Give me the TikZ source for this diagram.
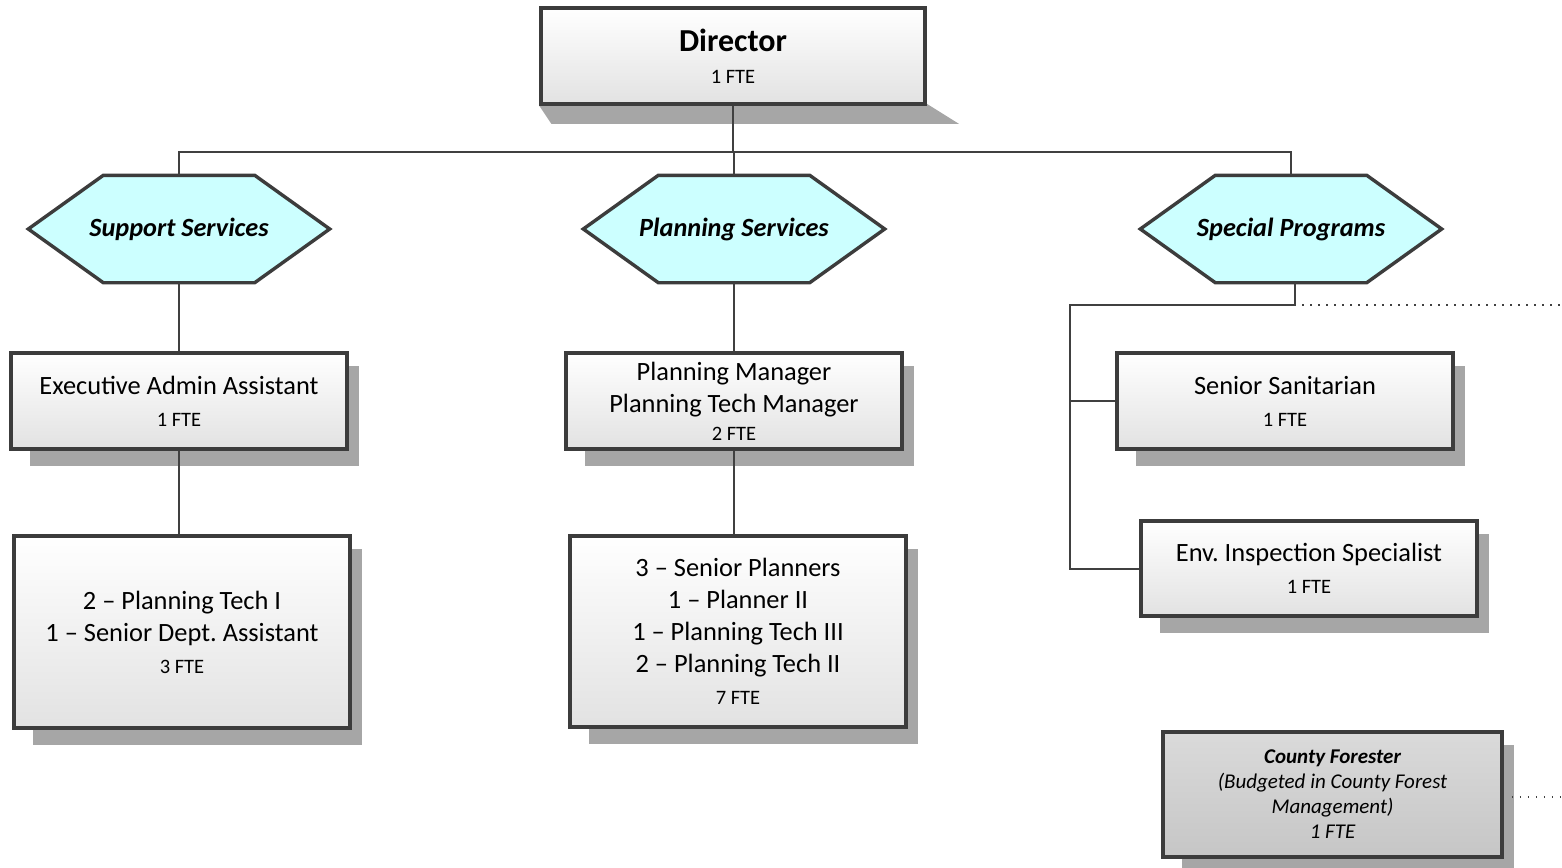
\documentclass[tikz,border=0pt]{standalone}
\usepackage{fontspec}
\setmainfont{Carlito}
\usetikzlibrary{calc}
\pgfdeclarelayer{bg}
\pgfsetlayers{bg,main}
\definecolor{bordergray}{HTML}{3C3C3C}
\definecolor{linegray}{HTML}{404040}
\definecolor{hexfill}{HTML}{CCFFFF}
\definecolor{shadowgray}{HTML}{A6A6A6}
\definecolor{boxbottom}{HTML}{E2E2E2}
\definecolor{cftop}{HTML}{DADADA}
\definecolor{cfbottom}{HTML}{C6C6C6}
\newcommand\fte[1]{{\fontsize{20.5}{32}\selectfont #1}}
\tikzset{
  orgbox/.style={draw=bordergray, line width=3.5pt, top color=white, bottom color=boxbottom,
    align=center, inner sep=0pt, minimum width=336pt, minimum height=96pt,
    font=\fontsize{26.4}{32}\selectfont},
  cfbox/.style={orgbox, top color=cftop, bottom color=cfbottom, minimum width=339pt,
    minimum height=125pt, font=\fontsize{21}{25}\selectfont\itshape},
  hexnode/.style={inner sep=0pt, minimum width=301pt, minimum height=107pt,
    font=\fontsize{26.3}{30}\selectfont\bfseries\itshape},
  hexshape/.style={draw=bordergray, line width=3.4pt, fill=hexfill, line join=miter},
  conn/.style={draw=linegray, line width=2pt},
  dotline/.style={draw=linegray, line width=1.8pt, dash pattern=on 1.6pt off 6.4pt},
  shadowfill/.style={fill=shadowgray}
}
\begin{document}
\begin{tikzpicture}[x=1pt,y=-1pt]
\useasboundingbox (0,0) rectangle (1562,867);

% boxes
\node[orgbox, minimum width=384pt] (D) at (733,56) {{\bfseries\fontsize{32}{34}\selectfont Director}\\\fte{1 FTE}};
\node[hexnode] (SS) at (179,229) {Support Services};
\node[hexnode] (PS) at (734,229) {Planning Services};
\node[hexnode] (SP) at (1291,229) {Special Programs};
\node[orgbox] (EA) at (179,401) {Executive Admin Assistant\\\fte{1 FTE}};
\node[orgbox, minimum height=192pt] (PT) at (182,632) {2 – Planning Tech I\\1 – Senior Dept.\ Assistant\\\fte{3 FTE}};
\node[orgbox] (PM) at (734,401) {Planning Manager\\Planning Tech Manager\\[-4pt]\fte{2 FTE}};
\node[orgbox, minimum height=191pt] (SP2) at (738,631.5) {3 – Senior Planners\\1 – Planner II\\1 – Planning Tech III\\2 – Planning Tech II\\\fte{7 FTE}};
\node[orgbox] (SS2) at (1285,401) {Senior Sanitarian\\\fte{1 FTE}};
\node[orgbox, minimum height=95pt] (EI) at (1309,568.5) {Env.\ Inspection Specialist\\\fte{1 FTE}};
\node[cfbox] (CF) at (1332.5,794.5) {{\bfseries County Forester}\\(Budgeted in County Forest\\Management)\\1 FTE};

\begin{pgfonlayer}{bg}
  \fill[white] (0,0) rectangle (1562,867);
  % shadows
  \fill[shadowfill] (D.south west) -- ($(D.south west)+(12,18)$) -- ($(D.south east)+(32,18)$) -- ($(D.south east)+(0,-2)$) -- cycle;
  \foreach \b in {EA,PT,PM,SP2,SS2,EI,CF}{
    \fill[shadowfill] ($(\b.north west)+(21,15)$) rectangle ($(\b.south east)+(10,15)$);
  }
  % hexagons
  \foreach \h in {SS,PS,SP}{
    \draw[hexshape] (\h.west) -- ($(\h.north west)+(75,0)$) -- ($(\h.north east)+(-75,0)$)
      -- (\h.east) -- ($(\h.south east)+(-75,0)$) -- ($(\h.south west)+(75,0)$) -- cycle;
  }
  % connectors
  \coordinate (bus) at (0,152);
  \draw[conn] (D.south) -- (D.south |- bus);
  \draw[conn] (SS.north) -- (SS.north |- bus) -- (SP.north |- bus) -- (SP.north);
  \draw[conn] (PS.north |- bus) -- (PS.north);
  \draw[conn] (SS.south) -- (EA.north);
  \draw[conn] (EA.south) -- (EA.south |- PT.north);
  \draw[conn] (PS.south) -- (PM.north);
  \draw[conn] (PM.south) -- (PM.south |- SP2.north);
  \coordinate (sj) at (1295,305);
  \coordinate (sl) at (1070,305);
  \coordinate (dotend) at (1562,305);
  \coordinate (cfend) at (1562,797);
  \draw[conn] ($(SP.south)+(4,0)$) -- (sj) -- (sl) -- (sl |- EI.west) -- (EI.west);
  \draw[conn] (sl |- SS2.west) -- (SS2.west);
  \draw[dotline] ($(sj)+(7,0)$) -- (dotend);
  \draw[dotline] ($(CF.east |- cfend)+(8,0)$) -- (cfend);
\end{pgfonlayer}
\end{tikzpicture}
\end{document}
